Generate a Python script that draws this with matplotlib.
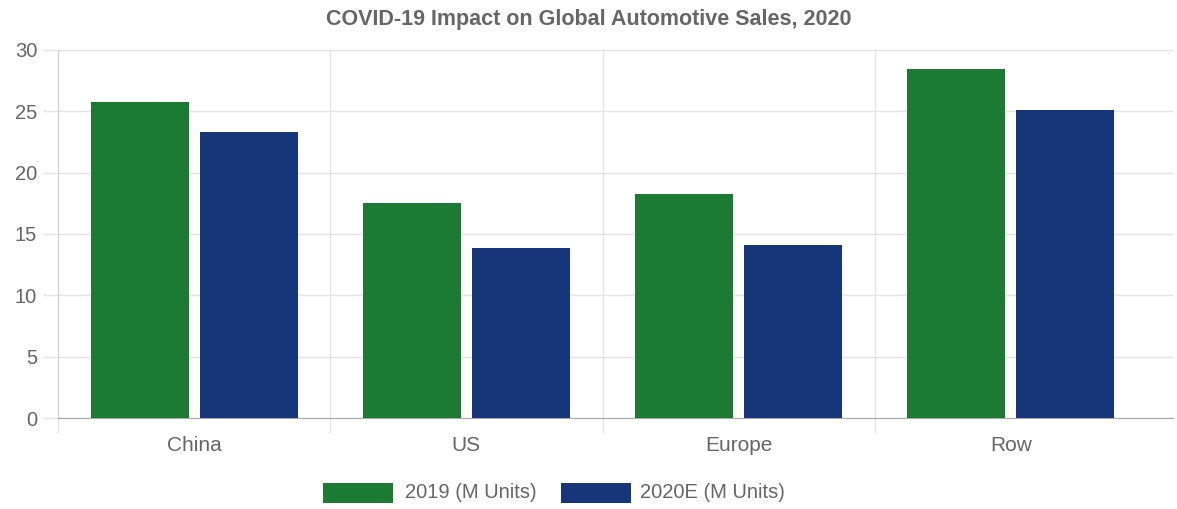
import matplotlib
matplotlib.use("Agg")
import matplotlib.pyplot as plt
import numpy as np
from matplotlib.patches import Rectangle

categories = ["China", "US", "Europe", "Row"]
series_names = ["2019 (M Units)", "2020E (M Units)"]
values_2019 = [25.75, 17.5, 18.25, 28.45]
values_2020 = [23.3, 13.85, 14.1, 25.1]
y_ticks = [0, 5, 10, 15, 20, 25, 30]

colors = ["#1b7b33", "#17367a"]
text_color = "#666666"
grid_color = "#e4e4e4"

plt.rcParams['font.family'] = ['Liberation Sans', 'DejaVu Sans']

W, H = 1177, 509
fig = plt.figure(figsize=(W / 100, H / 100), dpi=100)
left, right, bottom, top = 58, 1173, 418, 50
ax = fig.add_axes([left / W, 1 - bottom / H, (right - left) / W, (bottom - top) / H])

x = np.arange(len(categories))
bw = 0.36
ax.bar(x - 0.2, values_2019, width=bw, color=colors[0], zorder=3)
ax.bar(x + 0.2, values_2020, width=bw, color=colors[1], zorder=3)

ax.set_ylim(0, 30)
ax.set_xlim(-0.5, 3.5 + (1173 - 1147) / 272.5)

ax.set_yticks(y_ticks)
ax.set_yticklabels([str(t) for t in y_ticks])
ax.set_xticks(x)
ax.set_xticklabels(categories)
ax.set_xticks(np.arange(-0.5, len(categories) - 0.5, 1.0), minor=True)

ax.tick_params(axis='y', length=11, width=1, color=grid_color, labelsize=14.5,
               labelcolor=text_color, pad=4)
ax.tick_params(axis='x', which='major', length=0, labelsize=15,
               labelcolor=text_color, pad=13)
ax.tick_params(axis='x', which='minor', length=11, width=1, color=grid_color)

ax.yaxis.grid(True, color=grid_color, linewidth=1, zorder=0)
ax.xaxis.grid(True, which='minor', color=grid_color, linewidth=1, zorder=0)
ax.set_axisbelow(True)

for s in ['top', 'right']:
    ax.spines[s].set_visible(False)
ax.spines['left'].set_color('#d0d0d0')
ax.spines['bottom'].set_color('#a8a8a8')

fig.text(589 / W, 1 - 20 / H, "COVID-19 Impact on Global Automotive Sales, 2020",
         ha='center', va='center', fontsize=15.5, fontweight='bold', color=text_color)

# legend
leg_y = 493
boxes = [(323, 405), (561, 640)]
for (bx, tx), c, name in zip(boxes, colors, series_names):
    fig.patches.append(Rectangle((bx / W, 1 - (leg_y + 10) / H), 70 / W, 20 / H,
                                 transform=fig.transFigure, facecolor=c, edgecolor='none'))
    fig.text(tx / W, 1 - leg_y / H, name, ha='left', va='center', fontsize=14.5,
             color=text_color)

fig.savefig("out.png", dpi=100)
